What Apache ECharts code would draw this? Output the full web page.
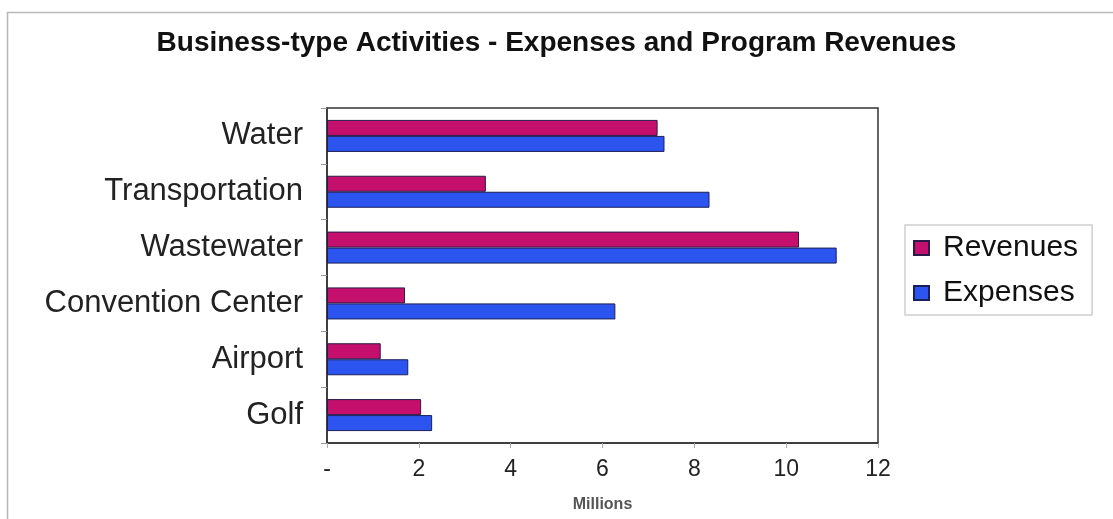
<!DOCTYPE html>
<html>
<head>
<meta charset="utf-8">
<script src="https://cdn.jsdelivr.net/npm/echarts@6/dist/echarts.min.js"></script>
<style>html,body{margin:0;padding:0;background:#fff;}#chart{width:1113px;height:519px;}</style>
</head>
<body>
<div id="chart"></div>
<script>
const categories = ["Water", "Transportation", "Wastewater", "Convention Center", "Airport", "Golf"];
const revenues = [7.20, 3.46, 10.28, 1.70, 1.17, 2.05];
const expenses = [7.35, 8.33, 11.10, 6.28, 1.77, 2.29];
const xTicks = [0, 2, 4, 6, 8, 10, 12];

const chart = echarts.init(document.getElementById('chart'));
const font = '"Liberation Sans", Arial, sans-serif';
chart.setOption({
  backgroundColor: '#fff',
  animation: false,
  textStyle: { fontFamily: font },
  graphic: [{
    type: 'rect', left: 5, top: 10, shape: { width: 1130, height: 540 },
    style: { fill: 'none', stroke: '#b8b8b8', lineWidth: 1.5 }, silent: true
  }],
  title: {
    text: 'Business-type Activities - Expenses and Program Revenues',
    left: 'center', top: 24,
    textStyle: { fontFamily: font, fontSize: 28, fontWeight: 'bold', color: '#111' }
  },
  legend: {
    orient: 'vertical', left: 905, top: 225,
    data: ['Revenues', 'Expenses'],
    itemWidth: 15, itemHeight: 14, itemGap: 15,
    padding: [8, 14, 7, 8],
    borderColor: '#cfcfcf', borderWidth: 1.5,
    textStyle: { fontFamily: font, fontSize: 30, color: '#111', padding: [0, 0, 0, 9] },
    icon: 'rect'
  },
  grid: { left: 327, right: 235, top: 108, bottom: 76, show: true, borderColor: '#333', borderWidth: 1.5, containLabel: false },
  xAxis: {
    type: 'value', min: xTicks[0], max: xTicks[xTicks.length - 1], interval: 2,
    name: 'Millions', nameLocation: 'middle', nameGap: 54,
    nameTextStyle: { fontFamily: font, fontSize: 16, fontWeight: 'bold', color: '#555' },
    axisLine: { show: true, lineStyle: { color: '#333', width: 1.5 } },
    axisTick: { show: true, length: 5, lineStyle: { color: '#aaa' } },
    splitLine: { show: false },
    axisLabel: {
      fontFamily: font, fontSize: 23, color: '#222', margin: 15,
      formatter: v => v === 0 ? '-' : String(v)
    }
  },
  yAxis: {
    type: 'category', data: categories, inverse: true,
    axisLine: { show: true, lineStyle: { color: '#333', width: 1.5 } },
    axisTick: { show: true, length: 6, lineStyle: { color: '#999' } },
    axisLabel: { fontFamily: font, fontSize: 31, color: '#222', margin: 24 }
  },
  series: [
    {
      name: 'Revenues', type: 'bar', data: revenues, barWidth: 16, barGap: '0%',
      itemStyle: { color: '#C4106C', borderColor: '#2a1a4a', borderWidth: 1 }
    },
    {
      name: 'Expenses', type: 'bar', data: expenses, barWidth: 16, barGap: '0%',
      itemStyle: { color: '#2C55F0', borderColor: '#1a1f5a', borderWidth: 1 }
    }
  ]
});
</script>
</body>
</html>
